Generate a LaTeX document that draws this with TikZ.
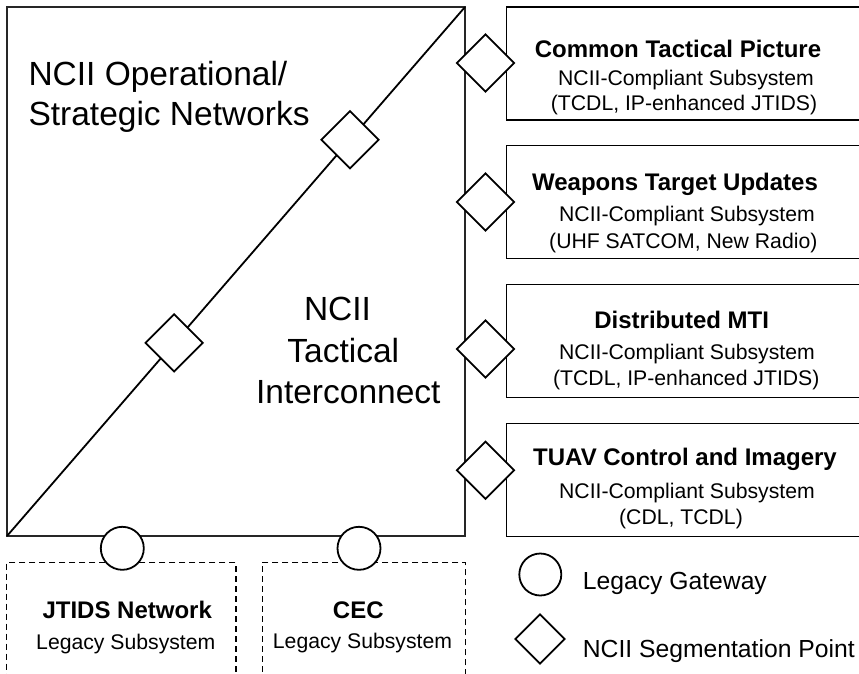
\documentclass[tikz,border=0pt]{standalone}
\usepackage{fontspec}
\setmainfont{Liberation Sans}
\usetikzlibrary{shapes.geometric,calc}
\begin{document}
\begin{tikzpicture}[x=1pt,y=-1pt,
  frame/.style={draw=black!85, line width=1.3pt, outer sep=0pt, inner sep=0pt, anchor=north west},
  rbox/.style={draw=black, line width=1.3pt, outer sep=0pt, inner sep=0pt, anchor=north west, minimum width=380pt, minimum height=113pt},
  lbox/.style={draw=black, line width=1.1pt, dash pattern=on 6pt off 4pt, outer sep=0pt, inner sep=0pt, anchor=north west, minimum height=140pt},
  segpt/.style={diamond, draw=black, fill=white, line width=1.8pt, inner sep=0pt, minimum size=58pt},
  gate/.style={circle, draw=black, fill=white, line width=1.8pt, inner sep=0pt, minimum size=43pt},
  big/.style={font=\fontsize{33.5}{40}\selectfont, inner sep=0pt},
  ttl/.style={font=\fontsize{24}{28}\selectfont\bfseries, inner sep=0pt, anchor=base},
  sub/.style={font=\fontsize{21.2}{25}\selectfont, inner sep=0pt, anchor=base},
  leg/.style={font=\fontsize{24.7}{29}\selectfont, inner sep=0pt, anchor=base west}
]
\useasboundingbox (0,0) rectangle (859,673);
\clip (0,0) rectangle (859,673);

% main square and diagonal
\node[frame, minimum width=458pt, minimum height=529pt] (sq) at (7,7) {};
\draw[line width=1.8pt] (sq.south west) -- (sq.north east);

% right boxes
\node[rbox] (b1) at (506.7,7) {};
\node[rbox] (b2) at (506.7,145.8) {};
\node[rbox] (b3) at (506.7,284.4) {};
\node[rbox] (b4) at (506.7,423.3) {};

% dashed legacy boxes
\node[lbox, minimum width=229.3pt] (l1) at (6.7,562.3) {};
\node[lbox, minimum width=203pt] (l2) at (262.3,562.3) {};

% segmentation points
\node[segpt] (s1) at (485.5,63) {};
\node[segpt] (s2) at (485.5,202) {};
\node[segpt] (s3) at (485.5,349) {};
\node[segpt] (s4) at (485.5,470.3) {};
\node[segpt] (s5) at ($(sq.south west)!0.365!(sq.north east)$) {};
\node[segpt] (s6) at ($(sq.south west)!0.749!(sq.north east)$) {};

% legacy gateways
\node[gate] (g1) at (122.3,548.3) {};
\node[gate] (g2) at (359,548.3) {};

% big labels
\node[big, anchor=base west] (t1) at (28.3,85.7) {NCII Operational/};
\node[big, anchor=base west] (t2) at (28.3,125.3) {Strategic Networks};
\node[big, anchor=base] (t3) at (337.5,320.7) {NCII};
\node[big, anchor=base] (t4) at (343.3,362.7) {Tactical};
\node[big, anchor=base] (t5) at (348.3,403.3) {Interconnect};

% box texts
\node[ttl] (b1a) at (678,57) {Common Tactical Picture};
\node[sub] (b1b) at (686,85) {NCII-Compliant Subsystem};
\node[sub] (b1c) at (684,110) {(TCDL, IP-enhanced JTIDS)};

\node[ttl] (b2a) at (675,190) {Weapons Target Updates};
\node[sub] (b2b) at (687,221.7) {NCII-Compliant Subsystem};
\node[sub] (b2c) at (683.3,248.5) {(UHF SATCOM, New Radio)};

\node[ttl] (b3a) at (681.7,328.3) {Distributed MTI};
\node[sub] (b3b) at (687,359.3) {NCII-Compliant Subsystem};
\node[sub] (b3c) at (686.3,385) {(TCDL, IP-enhanced JTIDS)};

\node[ttl] (b4a) at (685,465.7) {TUAV Control and Imagery};
\node[sub] (b4b) at (687,498.7) {NCII-Compliant Subsystem};
\node[sub] (b4c) at (681,524) {(CDL, TCDL)};

% legacy texts
\node[ttl] (l1a) at (127.2,618.3) {JTIDS Network};
\node[sub] (l1b) at (125.8,649) {Legacy Subsystem};
\node[ttl] (l2a) at (358.3,618.3) {CEC};
\node[sub] (l2b) at (362.5,648.5) {Legacy Subsystem};

% legend
\node[gate, minimum size=42pt] (kg) at (540.3,574.5) {};
\node[segpt, minimum size=50pt] (ks) at (540,639) {};
\node[leg] (kgt) at (582.7,589.5) {Legacy Gateway};
\node[leg] (kst) at (582.7,657.3) {NCII Segmentation Point};
\end{tikzpicture}
\end{document}
